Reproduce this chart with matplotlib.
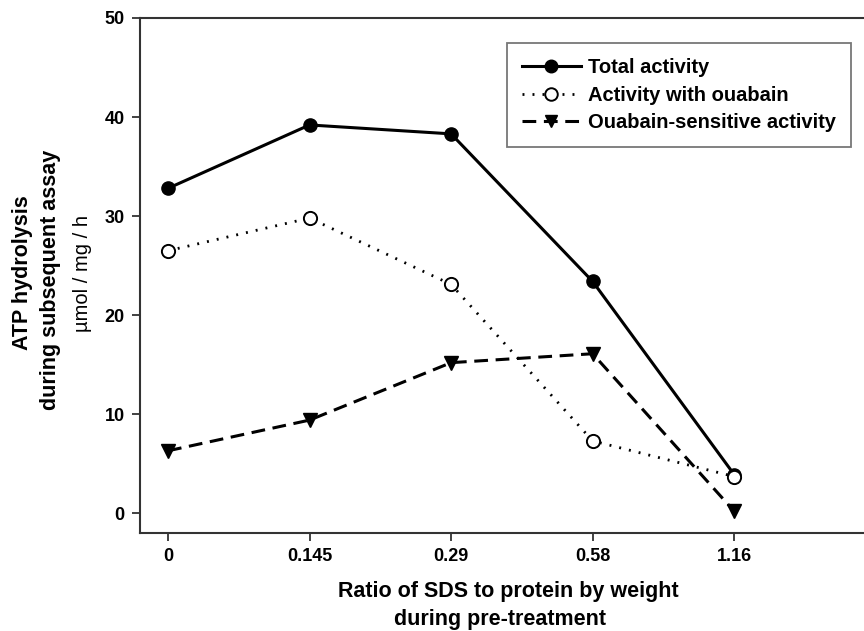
import matplotlib.pyplot as plt

plt.rcParams['font.family'] = ['Liberation Sans', 'DejaVu Sans']

ratio_labels = ["0", "0.145", "0.29", "0.58", "1.16"]
total_activity = [32.8, 39.2, 38.3, 23.4, 3.9]
with_ouabain = [26.5, 29.8, 23.1, 7.3, 3.7]
ouabain_sensitive = [6.3, 9.4, 15.2, 16.1, 0.2]

x = list(range(len(ratio_labels)))

fig = plt.figure(figsize=(8.64, 6.31), dpi=100)
ax = fig.add_axes([0.162, 0.1553, 0.8565, 0.8162])

ax.plot(x, total_activity, color="black", lw=2.2, marker="o", ms=9.5,
        mfc="black", mec="black", label="Total activity")
ax.plot(x, with_ouabain, color="black", lw=2.0, ls=(0, (0.7, 2.9)), marker="o", ms=9.5,
        mfc="white", mec="black", mew=1.4, label="Activity with ouabain")
ax.plot(x, ouabain_sensitive, color="black", lw=2.2, ls=(0, (4.5, 2.5)), marker="v", ms=9.5,
        mfc="black", mec="black", label="Ouabain-sensitive activity")

ax.set_xlim(-0.198, 5.03)
ax.set_ylim(-2, 50)
ax.set_xticks(x)
ax.set_xticklabels(ratio_labels)
ax.set_yticks([0, 10, 20, 30, 40, 50])

for side in ["left", "bottom", "top", "right"]:
    ax.spines[side].set_linewidth(1.5)
    ax.spines[side].set_color("#333333")
ax.tick_params(direction="out", length=6, width=1.3, color="#333333",
               labelsize=13, pad=5)
for lbl in ax.get_xticklabels() + ax.get_yticklabels():
    lbl.set_fontweight("bold")

leg = ax.legend(loc="upper left", bbox_to_anchor=(507 / 864, 1 - 43 / 631),
                bbox_transform=fig.transFigure, frameon=True, fancybox=False,
                prop={"weight": "bold", "size": 14.5}, handlelength=2.9,
                borderpad=0.75, labelspacing=0.42, handletextpad=0.35,
                borderaxespad=0, markerscale=0.95)
leg.get_frame().set_edgecolor("#555555")
leg.get_frame().set_linewidth(1.3)

# two-line x label and three-line y label
fig.text(508 / 864, 1 - 592 / 631, "Ratio of SDS to protein by weight",
         ha="center", va="center", fontsize=15.5, fontweight="bold")
fig.text(500 / 864, 1 - 620 / 631, "during pre-treatment",
         ha="center", va="center", fontsize=15.5, fontweight="bold")
fig.text(23 / 864, 1 - 273 / 631, "ATP hydrolysis", rotation=90,
         ha="center", va="center", fontsize=15.5, fontweight="bold")
fig.text(51 / 864, 1 - 280 / 631, "during subsequent assay", rotation=90,
         ha="center", va="center", fontsize=15.5, fontweight="bold")
fig.text(82 / 864, 1 - 273 / 631, "\u00b5mol / mg / h", rotation=90,
         ha="center", va="center", fontsize=14.5)

fig.savefig("out.png", dpi=100)
